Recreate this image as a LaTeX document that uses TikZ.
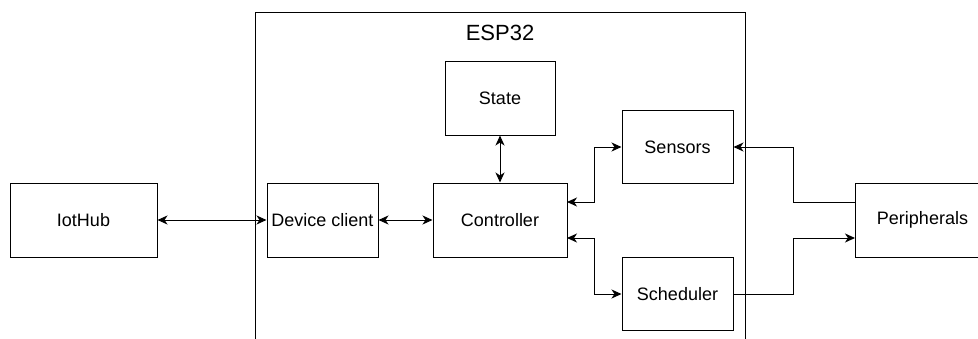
\documentclass[tikz,border=0pt]{standalone}
\usepackage{fontspec}
\setmainfont{Liberation Sans}
\usetikzlibrary{arrows.meta}
\begin{document}
\begin{tikzpicture}[x=1pt,y=-1pt,
  box/.style={draw=black, line width=1pt, fill=white, inner sep=0pt, font=\fontsize{18}{21}\selectfont},
  conn/.style={line width=1pt, draw=black},
  tip/.style={-{Stealth[length=10pt,width=9pt,inset=3pt]}},
  both/.style={{Stealth[length=10pt,width=9pt,inset=3pt]}-{Stealth[length=10pt,width=9pt,inset=3pt]}}]
\useasboundingbox (0,0) rectangle (978,338);
\clip (0,0) rectangle (978,338);
\fill[white] (0,0) rectangle (978,338);
% ESP32 container
\draw[conn] (255,360) -- (255,12) -- (745,12) -- (745,360);
\node[font=\fontsize{22}{25}\selectfont] (title) at (500,33) {ESP32};
% Nodes
\node[box, minimum width=147pt, minimum height=74pt] (iot) at (83.5,220) {IotHub};
\node[box, minimum width=111pt, minimum height=74pt] (dev) at (322.5,220) {Device client};
\node[box, minimum width=134pt, minimum height=74pt] (ctl) at (500,220) {Controller};
\node[box, minimum width=110pt, minimum height=74pt] (state) at (500,98) {State};
\node[box, minimum width=111pt, minimum height=73pt] (sens) at (677.5,147) {Sensors};
\node[box, minimum width=111pt, minimum height=73pt] (sched) at (677.5,294) {Scheduler};
\node[box, minimum width=135pt, minimum height=74pt] (per) at (922.5,220) {Peripherals};
% Coordinates for connector bends
\coordinate (c1) at (567,202);
\coordinate (c2) at (567,238);
\coordinate (p1) at (855,202);
\coordinate (p2) at (855,238);
% Connectors
\draw[conn, both] (iot.east) -- (dev.west);
\draw[conn, both] (dev.east) -- (ctl.west);
\draw[conn, both] (state.south) -- (ctl.north);
\draw[conn, both] (c1) -- (594,202) |- (sens.west);
\draw[conn, both] (c2) -- (594,238) |- (sched.west);
\draw[conn, tip] (p1) -- (793,202) |- (sens.east);
\draw[conn, tip] (sched.east) -- (793,294) |- (p2);
\end{tikzpicture}
\end{document}
